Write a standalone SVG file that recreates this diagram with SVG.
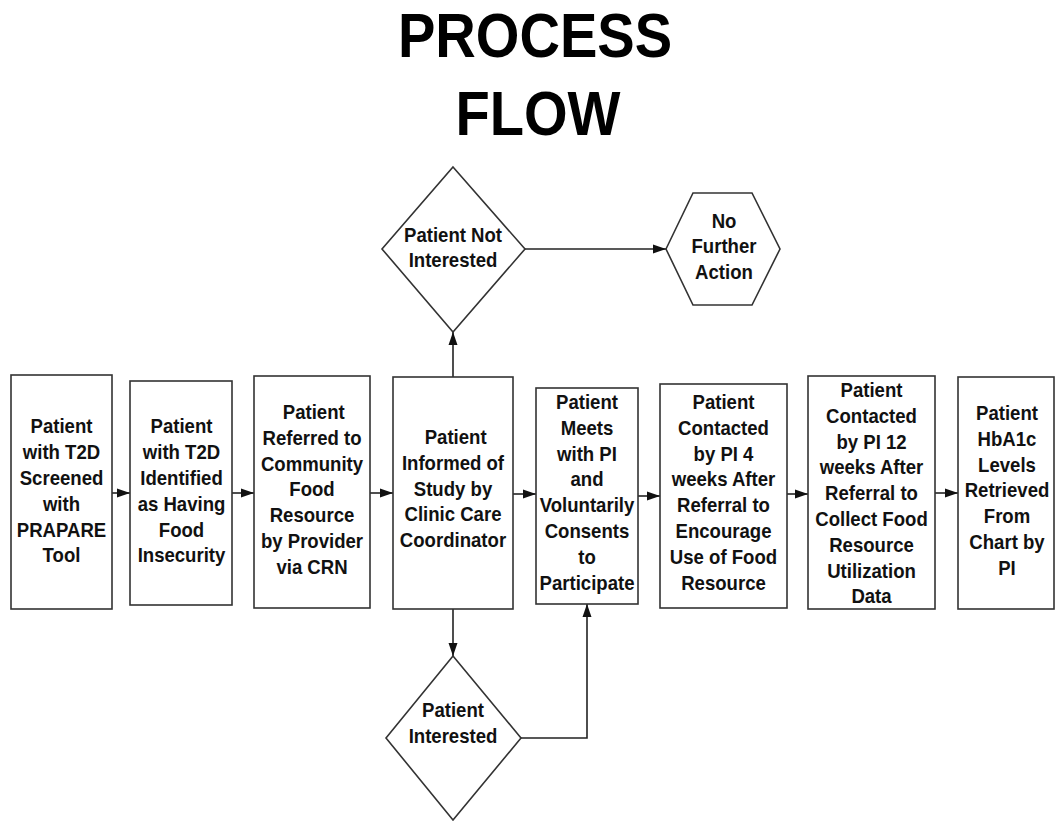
<svg xmlns="http://www.w3.org/2000/svg" width="1055" height="821" viewBox="0 0 1055 821">
<defs>
<marker id="arr" markerUnits="userSpaceOnUse" markerWidth="14" markerHeight="10" refX="13" refY="5" orient="auto">
<path d="M0,0.5 L13,5 L0,9.5 z" fill="#111"/>
</marker>
</defs>
<style>
.shape{fill:#fff;stroke:#333;stroke-width:1.6}
.t{font-family:"Liberation Sans",Arial,sans-serif;font-weight:bold;font-size:21px;fill:#111;text-anchor:middle}
.title{font-family:"Liberation Sans",Arial,sans-serif;font-weight:bold;font-size:63px;fill:#000;text-anchor:middle}
.c{fill:none;stroke:#222;stroke-width:1.6}
</style>
<rect width="1055" height="821" fill="#fff"/>
<g id="title">
<text class="title" transform="translate(535 0) scale(0.89 1)" x="0" y="57">PROCESS</text>
<text class="title" transform="translate(538 0) scale(0.89 1)" x="0" y="135">FLOW</text>
</g>
<g id="connectors">
<line class="c" x1="112" y1="493" x2="130" y2="493" marker-end="url(#arr)"/>
<line class="c" x1="232" y1="493" x2="254" y2="493" marker-end="url(#arr)"/>
<line class="c" x1="370" y1="493" x2="393" y2="493" marker-end="url(#arr)"/>
<line class="c" x1="513" y1="494" x2="536" y2="494" marker-end="url(#arr)"/>
<line class="c" x1="638" y1="496" x2="660" y2="496" marker-end="url(#arr)"/>
<line class="c" x1="787" y1="494" x2="808" y2="494" marker-end="url(#arr)"/>
<line class="c" x1="935" y1="493" x2="958" y2="493" marker-end="url(#arr)"/>
<line class="c" x1="453" y1="377" x2="453" y2="332" marker-end="url(#arr)"/>
<line class="c" x1="525" y1="249" x2="666" y2="249" marker-end="url(#arr)"/>
<line class="c" x1="453" y1="609" x2="453" y2="656" marker-end="url(#arr)"/>
<polyline class="c" points="521,738 587,738 587,604" marker-end="url(#arr)"/>
</g>
<g id="n1">
<rect class="shape" x="11" y="375" width="101" height="234"/>
<text class="t" transform="translate(61.5 0) scale(0.885 1)" y="433"><tspan x="0">Patient</tspan><tspan x="0" dy="25.9">with T2D</tspan><tspan x="0" dy="25.9">Screened</tspan><tspan x="0" dy="25.9">with</tspan><tspan x="0" dy="25.9">PRAPARE</tspan><tspan x="0" dy="25.9">Tool</tspan></text>
</g>
<g id="n2">
<rect class="shape" x="130" y="381" width="102" height="224"/>
<text class="t" transform="translate(181.5 0) scale(0.885 1)" y="433"><tspan x="0">Patient</tspan><tspan x="0" dy="25.9">with T2D</tspan><tspan x="0" dy="25.9">Identified</tspan><tspan x="0" dy="25.9">as Having</tspan><tspan x="0" dy="25.9">Food</tspan><tspan x="0" dy="25.9">Insecurity</tspan></text>
</g>
<g id="n3">
<rect class="shape" x="254" y="376" width="116" height="232"/>
<text class="t" transform="translate(312 0) scale(0.885 1)" y="419"><tspan x="2">Patient</tspan><tspan x="0" dy="25.8">Referred to</tspan><tspan x="0" dy="25.8">Community</tspan><tspan x="0" dy="25.8">Food</tspan><tspan x="0" dy="25.8">Resource</tspan><tspan x="0" dy="25.8">by Provider</tspan><tspan x="0" dy="25.8">via CRN</tspan></text>
</g>
<g id="n4">
<rect class="shape" x="393" y="377" width="120" height="232"/>
<text class="t" transform="translate(453 0) scale(0.885 1)" y="444"><tspan x="3">Patient</tspan><tspan x="0" dy="25.8">Informed of</tspan><tspan x="0" dy="25.8">Study by</tspan><tspan x="0" dy="25.8">Clinic Care</tspan><tspan x="0" dy="25.8">Coordinator</tspan></text>
</g>
<g id="n5">
<rect class="shape" x="536" y="388" width="102" height="216"/>
<text class="t" transform="translate(587 0) scale(0.885 1)" y="409"><tspan x="0">Patient</tspan><tspan x="0" dy="25.8">Meets</tspan><tspan x="0" dy="25.8">with PI</tspan><tspan x="0" dy="25.8">and</tspan><tspan x="0" dy="25.8">Voluntarily</tspan><tspan x="0" dy="25.8">Consents</tspan><tspan x="0" dy="25.8">to</tspan><tspan x="0" dy="25.8">Participate</tspan></text>
</g>
<g id="n6">
<rect class="shape" x="660" y="384" width="127" height="224"/>
<text class="t" transform="translate(723.5 0) scale(0.885 1)" y="409"><tspan x="0">Patient</tspan><tspan x="0" dy="25.8">Contacted</tspan><tspan x="0" dy="25.8">by PI 4</tspan><tspan x="0" dy="25.8">weeks After</tspan><tspan x="0" dy="25.8">Referral to</tspan><tspan x="0" dy="25.8">Encourage</tspan><tspan x="0" dy="25.8">Use of Food</tspan><tspan x="0" dy="25.8">Resource</tspan></text>
</g>
<g id="n7">
<rect class="shape" x="808" y="376" width="127" height="233"/>
<text class="t" transform="translate(871.5 0) scale(0.885 1)" y="397"><tspan x="0">Patient</tspan><tspan x="0" dy="25.8">Contacted</tspan><tspan x="0" dy="25.8">by PI 12</tspan><tspan x="0" dy="25.8">weeks After</tspan><tspan x="0" dy="25.8">Referral to</tspan><tspan x="0" dy="25.8">Collect Food</tspan><tspan x="0" dy="25.8">Resource</tspan><tspan x="0" dy="25.8">Utilization</tspan><tspan x="0" dy="25.8">Data</tspan></text>
</g>
<g id="n8">
<rect class="shape" x="958" y="377" width="96" height="232"/>
<text class="t" transform="translate(1007 0) scale(0.885 1)" y="420"><tspan x="0">Patient</tspan><tspan x="0" dy="25.8">HbA1c</tspan><tspan x="0" dy="25.8">Levels</tspan><tspan x="0" dy="25.8">Retrieved</tspan><tspan x="0" dy="25.8">From</tspan><tspan x="0" dy="25.8">Chart by</tspan><tspan x="0" dy="25.8">PI</tspan></text>
</g>
<g id="d_not">
<polygon class="shape" points="453,167 525,249 453,332 382,249"/>
<text class="t" transform="translate(453 0) scale(0.885 1)" y="242"><tspan x="0">Patient Not</tspan><tspan x="0" dy="25.5">Interested</tspan></text>
</g>
<g id="hex_none">
<polygon class="shape" points="666,249 693,193 752,193 780,249 752,305 693,305"/>
<text class="t" transform="translate(724 0) scale(0.885 1)" y="228"><tspan x="0">No</tspan><tspan x="0" dy="25.3">Further</tspan><tspan x="0" dy="25.3">Action</tspan></text>
</g>
<g id="d_int">
<polygon class="shape" points="453,656 521,738 453,820 386,738"/>
<text class="t" transform="translate(453 0) scale(0.885 1)" y="717"><tspan x="0">Patient</tspan><tspan x="0" dy="26">Interested</tspan></text>
</g>
</svg>
